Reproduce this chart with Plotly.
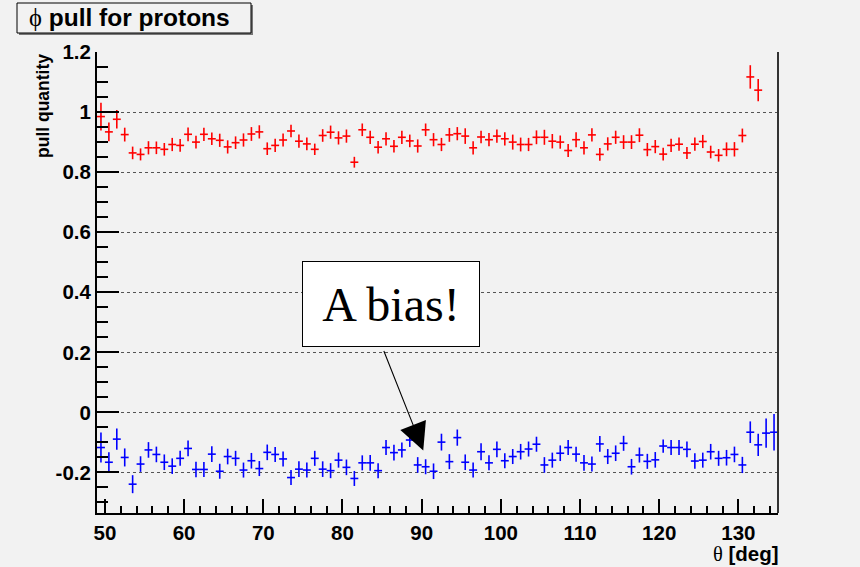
import numpy as np
import plotly.graph_objects as go

# 1-degree bins in theta, 49..135 deg
theta = np.arange(49.5, 135.0, 1.0)

pull_red = [0.985, 0.934, 0.976, 0.925, 0.864, 0.859, 0.881, 0.881, 0.876, 0.892,
            0.889, 0.926, 0.900, 0.926, 0.911, 0.906, 0.884, 0.898, 0.907, 0.927,
            0.934, 0.878, 0.889, 0.907, 0.937, 0.903, 0.894, 0.876, 0.922, 0.933,
            0.914, 0.920, 0.833, 0.941, 0.916, 0.883, 0.911, 0.886, 0.916, 0.904,
            0.887, 0.941, 0.908, 0.892, 0.924, 0.928, 0.920, 0.881, 0.917, 0.908,
            0.920, 0.911, 0.900, 0.892, 0.892, 0.916, 0.916, 0.903, 0.900, 0.872,
            0.908, 0.881, 0.924, 0.859, 0.894, 0.916, 0.900, 0.900, 0.923, 0.875,
            0.885, 0.860, 0.889, 0.893, 0.864, 0.893, 0.902, 0.867, 0.856, 0.876,
            0.876, 0.922, 1.117, 1.073, None, None]
err_red = [0.046, 0.031, 0.031, 0.023, 0.021, 0.020, 0.022, 0.021, 0.021, 0.022,
           0.021, 0.023, 0.021, 0.022, 0.021, 0.022, 0.022, 0.021, 0.022, 0.023,
           0.022, 0.021, 0.022, 0.022, 0.021, 0.022, 0.021, 0.019, 0.021, 0.022,
           0.022, 0.022, 0.018, 0.021, 0.022, 0.021, 0.022, 0.021, 0.022, 0.021,
           0.022, 0.021, 0.022, 0.022, 0.023, 0.022, 0.026, 0.022, 0.021, 0.022,
           0.022, 0.022, 0.025, 0.023, 0.022, 0.023, 0.025, 0.024, 0.022, 0.022,
           0.025, 0.022, 0.022, 0.021, 0.022, 0.022, 0.023, 0.023, 0.023, 0.022,
           0.022, 0.021, 0.022, 0.022, 0.020, 0.022, 0.022, 0.021, 0.021, 0.023,
           0.024, 0.023, 0.039, 0.037, None, None]

pull_blue = [-0.117, -0.166, -0.089, -0.150, -0.239, -0.172, -0.125, -0.140, -0.166, -0.179,
             -0.153, -0.120, -0.190, -0.190, -0.139, -0.196, -0.147, -0.153, -0.192, -0.161,
             -0.187, -0.133, -0.140, -0.155, -0.217, -0.189, -0.192, -0.153, -0.189, -0.194,
             -0.159, -0.183, -0.220, -0.168, -0.168, -0.194, -0.117, -0.134, -0.125, -0.092,
             -0.175, -0.181, -0.196, -0.099, -0.164, -0.084, -0.166, -0.192, -0.131, -0.168,
             -0.123, -0.161, -0.147, -0.131, -0.122, -0.106, -0.175, -0.159, -0.136, -0.117,
             -0.139, -0.168, -0.172, -0.105, -0.147, -0.136, -0.103, -0.181, -0.142, -0.163,
             -0.158, -0.112, -0.117, -0.117, -0.123, -0.162, -0.159, -0.131, -0.153, -0.151,
             -0.140, -0.175, -0.066, -0.108, -0.069, -0.066]
err_blue = [0.050, 0.033, 0.035, 0.030, 0.030, 0.026, 0.026, 0.026, 0.026, 0.026,
            0.025, 0.026, 0.026, 0.025, 0.026, 0.025, 0.026, 0.025, 0.025, 0.026,
            0.025, 0.026, 0.025, 0.025, 0.025, 0.026, 0.025, 0.025, 0.026, 0.025,
            0.025, 0.026, 0.025, 0.025, 0.026, 0.025, 0.025, 0.026, 0.025, 0.023,
            0.026, 0.025, 0.026, 0.028, 0.025, 0.027, 0.026, 0.025, 0.028, 0.025,
            0.026, 0.025, 0.025, 0.026, 0.025, 0.025, 0.026, 0.025, 0.026, 0.025,
            0.025, 0.026, 0.025, 0.026, 0.025, 0.026, 0.025, 0.026, 0.025, 0.025,
            0.026, 0.022, 0.025, 0.025, 0.026, 0.026, 0.025, 0.026, 0.025, 0.026,
            0.026, 0.027, 0.036, 0.037, 0.049, 0.061]

x_ticks = [50, 60, 70, 80, 90, 100, 110, 120, 130]
y_ticks = [-0.2, 0, 0.2, 0.4, 0.6, 0.8, 1, 1.2]
y_tick_text = ["-0.2", "0", "0.2", "0.4", "0.6", "0.8", "1", "1.2"]

BG = "#f2f2f2"
W, H = 860, 567
ML, MR, MT, MB = 97, 82, 52, 54
PW, PH = W - ML - MR, H - MT - MB


def px(x):
    return (x - ML) / PW


def py(y):
    return (H - MB - y) / PH


def cross_trace(y, err, color):
    return go.Scatter(
        x=theta, y=y, mode="markers",
        marker=dict(size=1, color=color),
        error_y=dict(type="data", array=err, visible=True, width=0,
                     thickness=1.6, color=color),
        error_x=dict(type="constant", value=0.5, visible=True, width=0,
                     thickness=1.6, color=color),
        showlegend=False, hoverinfo="x+y",
    )


fig = go.Figure()
fig.add_trace(cross_trace(pull_red, err_red, "#ff0000"))
fig.add_trace(cross_trace(pull_blue, err_blue, "#0000ff"))

tickfont = dict(family="Liberation Sans", size=20.5, color="black", weight="bold")

fig.update_layout(
    width=W, height=H,
    margin=dict(l=ML, r=MR, t=MT, b=MB, pad=0),
    paper_bgcolor=BG, plot_bgcolor=BG,
    xaxis=dict(
        range=[49, 135], tickvals=x_ticks, ticks="inside", ticklen=14,
        tickwidth=1.5, tickcolor="black", showline=True, linewidth=2,
        linecolor="black", showgrid=False, zeroline=False, tickfont=tickfont,
        minor=dict(dtick=2, tick0=50, ticks="inside", ticklen=7,
                   tickwidth=1.5, tickcolor="black", showgrid=False),
    ),
    yaxis=dict(
        range=[-0.335, 1.2], tickvals=y_ticks, ticktext=y_tick_text,
        ticks="inside", ticklen=22, tickwidth=1.5, tickcolor="black",
        showline=True, linewidth=2, linecolor="black", showgrid=True,
        gridcolor="#555555", griddash="dot", gridwidth=1, zeroline=False,
        tickfont=tickfont,
        minor=dict(dtick=0.05, tick0=0, ticks="inside", ticklen=11,
                   tickwidth=1.5, tickcolor="black", showgrid=False),
    ),
)

shapes = [
    # right frame edge
    dict(type="line", xref="paper", yref="paper", x0=1, x1=1, y0=0, y1=1,
         line=dict(color="#333333", width=2)),
    # title box with shadow
    dict(type="rect", xref="paper", yref="paper",
         x0=px(19), x1=px(253), y0=py(35), y1=py(5),
         fillcolor="#777777", line=dict(width=0)),
    dict(type="rect", xref="paper", yref="paper",
         x0=px(17), x1=px(251), y0=py(33), y1=py(3),
         fillcolor=BG, line=dict(color="black", width=1)),
]
fig.update_layout(shapes=shapes)

annotations = [
    dict(text="<span style='font-family:Liberation Serif;font-weight:normal'>ϕ</span> pull for protons",
         xref="paper", yref="paper", x=px(27), y=py(18), xanchor="left",
         yanchor="middle", showarrow=False,
         font=dict(family="Liberation Sans", size=24.5, color="black", weight="bold")),
    dict(text="pull quantity", xref="paper", yref="paper", x=px(43), y=py(52),
         xanchor="center", yanchor="top", textangle=-90, showarrow=False,
         font=dict(family="Liberation Sans", size=17.5, color="black", weight="bold")),
    dict(text="<span style='font-family:Liberation Serif;font-weight:normal'>θ</span> [deg]",
         xref="paper", yref="paper", x=px(781), y=py(540), xanchor="right",
         yanchor="top", showarrow=False,
         font=dict(family="Liberation Sans", size=20.5, color="black", weight="bold")),
    # arrow pointing at the shifted blue points
    dict(text="", x=90.2, y=-0.127, xref="x", yref="y", ax=-40, ay=-101,
         showarrow=True, arrowhead=2, arrowsize=5, arrowwidth=1.1,
         arrowcolor="black"),
    dict(text="A bias!", xref="paper", yref="paper", x=px(391), y=py(304),
         xanchor="center", yanchor="middle", showarrow=False,
         width=176, height=84, bgcolor="white", bordercolor="black",
         borderwidth=1, borderpad=0,
         font=dict(family="Liberation Serif", size=48, color="black")),
]
fig.update_layout(annotations=annotations)

fig.write_html("out.html")
